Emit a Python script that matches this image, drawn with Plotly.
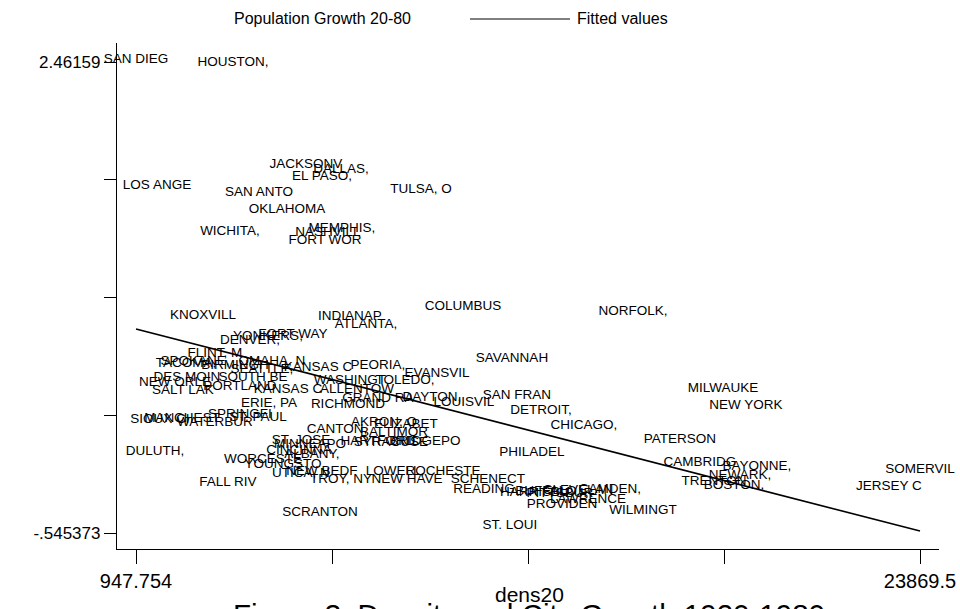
import plotly.graph_objects as go

# City labels, 1920 density (dens20) and population growth 1920-80
cities = [
    "SAN DIEG", "HOUSTON,", "JACKSONV", "DALLAS,", "EL PASO,", "LOS ANGE", "SAN ANTO",
    "TULSA, O", "OKLAHOMA", "MEMPHIS,", "NASHVILL", "WICHITA,", "FORT WOR",
    "COLUMBUS", "NORFOLK,", "KNOXVILL", "INDIANAP", "ATLANTA,", "FORT WAY", "YONKERS,",
    "DENVER,", "FLINT, M", "TACOMA,", "SPOKANE,", "BIRMINGH", "OMAHA, N", "KANSAS C",
    "SEATTLE,", "DES MOIN", "SOUTH BE", "NEW ORLE", "PORTLAND", "SALT LAK", "KANSAS C",
    "WASHINGT", "ALLENTOW", "TOLEDO,", "PEORIA,", "EVANSVIL", "GRAND RA", "DAYTON,",
    "SAN FRAN", "LOUISVIL", "SAVANNAH", "ERIE, PA", "RICHMOND", "MILWAUKE", "NEW YORK",
    "DETROIT,", "SIOUX CI", "MANCHEST", "SPRINGFI", "ST. PAUL", "WATERBUR", "CANTON,",
    "AKRON, O", "ELIZABET", "BALTIMOR", "HARTFORD", "BRIDGEPO", "SYRACUSE", "MINNEAPO",
    "ST. JOSE", "CHICAGO,", "PATERSON", "PHILADEL", "DULUTH,", "CINCINNA", "ALBANY,",
    "WORCESTE", "YOUNGSTO", "CAMBRIDG", "BAYONNE,", "NEW BEDF", "LOWELL,", "ROCHESTE",
    "UTICA, N", "TROY, NY", "NEW HAVE", "SCHENECT", "NEWARK,", "TRENTON", "BOSTON,",
    "FALL RIV", "READING,", "HARRISBU", "BUFFALO,", "PITTSBUR", "CLEVELAN", "CAMDEN,",
    "PROVIDEN", "LAWRENCE", "WILMINGT", "ST. LOUI", "SCRANTON", "SOMERVIL", "JERSEY C",
]
dens20 = [
    947.754, 3784, 5918, 6941, 6386, 1562, 4544,
    9280, 5362, 6970, 6561, 3696, 6473,
    10508, 15478, 2907, 7204, 7672, 5538, 4807,
    4281, 3257, 2410, 2673, 3842, 4924, 6269,
    4631, 2439, 4368, 2088, 3988, 2322, 5392,
    7204, 7409, 8812, 8023, 9748, 8023, 9602,
    12087, 10537, 11941, 4836, 7146, 18110, 18782,
    12788, 1649, 2293, 3988, 4515, 3257, 6824,
    8198, 8841, 8491, 8023, 9397, 8400, 6035,
    5772, 14045, 16852, 12525, 1503, 5713, 6093,
    4660, 5245, 17437, 19103, 6386, 8520, 9923,
    5772, 6941, 8871, 11239, 18606, 17846, 18431,
    3637, 11180, 12613, 12993, 13344, 13870, 14806,
    13402, 14162, 15770, 11882, 6327, 23869.5, 22962,
]
growth = [
    2.475, 2.458, 1.804, 1.772, 1.727, 1.670, 1.625,
    1.644, 1.517, 1.395, 1.370, 1.376, 1.319,
    0.898, 0.866, 0.840, 0.834, 0.783, 0.719, 0.706,
    0.680, 0.597, 0.534, 0.546, 0.521, 0.546, 0.508,
    0.495, 0.444, 0.444, 0.412, 0.387, 0.361, 0.368,
    0.425, 0.368, 0.425, 0.521, 0.470, 0.310, 0.317,
    0.329, 0.285, 0.565, 0.278, 0.272, 0.374, 0.265,
    0.233, 0.176, 0.182, 0.208, 0.189, 0.157, 0.112,
    0.157, 0.144, 0.093, 0.035, 0.035, 0.030, 0.016,
    0.042, 0.138, 0.048, -0.034, -0.028, -0.022, -0.047,
    -0.079, -0.111, -0.098, -0.124, -0.156, -0.156, -0.156,
    -0.169, -0.207, -0.207, -0.207, -0.181, -0.220, -0.245,
    -0.226, -0.271, -0.290, -0.284, -0.297, -0.277, -0.271,
    -0.367, -0.335, -0.405, -0.500, -0.418, -0.143, -0.252,
]

# Linear fit evaluated at the ends of the density range
fit_x = [947.754, 23869.5]
fit_y = [0.757, -0.533]

x_ticks = [947.754, 6678.19, 12408.63, 18139.06, 23869.5]
x_ticktext = ["947.754", "", "", "", "23869.5"]
y_ticks = [2.46159, 1.709849, 0.958108, 0.206368, -0.545373]
y_ticktext = ["2.46159", "", "", "", "-.545373"]

FONT = "Liberation Sans, Arial, Helvetica, sans-serif"
W, H = 960, 609
ML, MR, MT, MB = 117, 21, 43, 60
PW, PH = W - ML - MR, H - MT - MB


def px(x):
    return (x - ML) / PW


def py(y):
    return (H - MB - y) / PH


fig = go.Figure()
fig.add_trace(go.Scatter(
    x=dens20, y=growth, mode="text", text=cities,
    textposition="middle center",
    textfont=dict(family=FONT, size=13.5, color="black"),
    cliponaxis=False, showlegend=False, hoverinfo="skip",
))
fig.add_trace(go.Scatter(
    x=fit_x, y=fit_y, mode="lines",
    line=dict(color="black", width=1.6),
    cliponaxis=False, showlegend=False, hoverinfo="skip",
))

# Legend row above the plot
fig.add_annotation(x=px(232), y=py(18), xref="paper", yref="paper",
                   text="Population Growth 20-80", showarrow=False,
                   xanchor="left", yanchor="middle",
                   font=dict(family=FONT, size=16, color="black"))
fig.add_shape(type="line", xref="paper", yref="paper",
              x0=px(470), x1=px(570), y0=py(19), y1=py(19),
              line=dict(color="black", width=1))
fig.add_annotation(x=px(575), y=py(18), xref="paper", yref="paper",
                   text="Fitted values", showarrow=False,
                   xanchor="left", yanchor="middle",
                   font=dict(family=FONT, size=16, color="black"))

# Axis title and caption under the plot
fig.add_annotation(x=px(529), y=py(594), xref="paper", yref="paper",
                   text="dens20", showarrow=False,
                   xanchor="center", yanchor="middle",
                   font=dict(family=FONT, size=21, color="black"))
fig.add_annotation(x=px(529), y=py(614), xref="paper", yref="paper",
                   text="Figure 3: Density and City Growth 1920-1980",
                   showarrow=False, xanchor="center", yanchor="middle",
                   font=dict(family=FONT, size=29.5, color="black"))

fig.update_layout(
    width=W, height=H,
    margin=dict(l=ML, r=MR, t=MT, b=MB),
    paper_bgcolor="white", plot_bgcolor="white",
    font=dict(family=FONT, size=16, color="black"),
    xaxis=dict(
        range=[392.3, 24425], showgrid=False, zeroline=False, automargin=False,
        showline=True, linecolor="black", linewidth=1.2,
        tickmode="array", tickvals=x_ticks, ticktext=x_ticktext,
        ticks="outside", ticklen=14, tickwidth=1, tickcolor="black",
        tickfont=dict(family=FONT, size=20),
    ),
    yaxis=dict(
        range=[-0.6475, 2.5829], showgrid=False, zeroline=False, automargin=False,
        showline=True, linecolor="black", linewidth=1.2,
        tickmode="array", tickvals=y_ticks, ticktext=y_ticktext,
        ticks="outside", ticklen=12, tickwidth=1, tickcolor="black",
        tickfont=dict(family=FONT, size=17),
    ),
)

fig.write_html("out.html")
